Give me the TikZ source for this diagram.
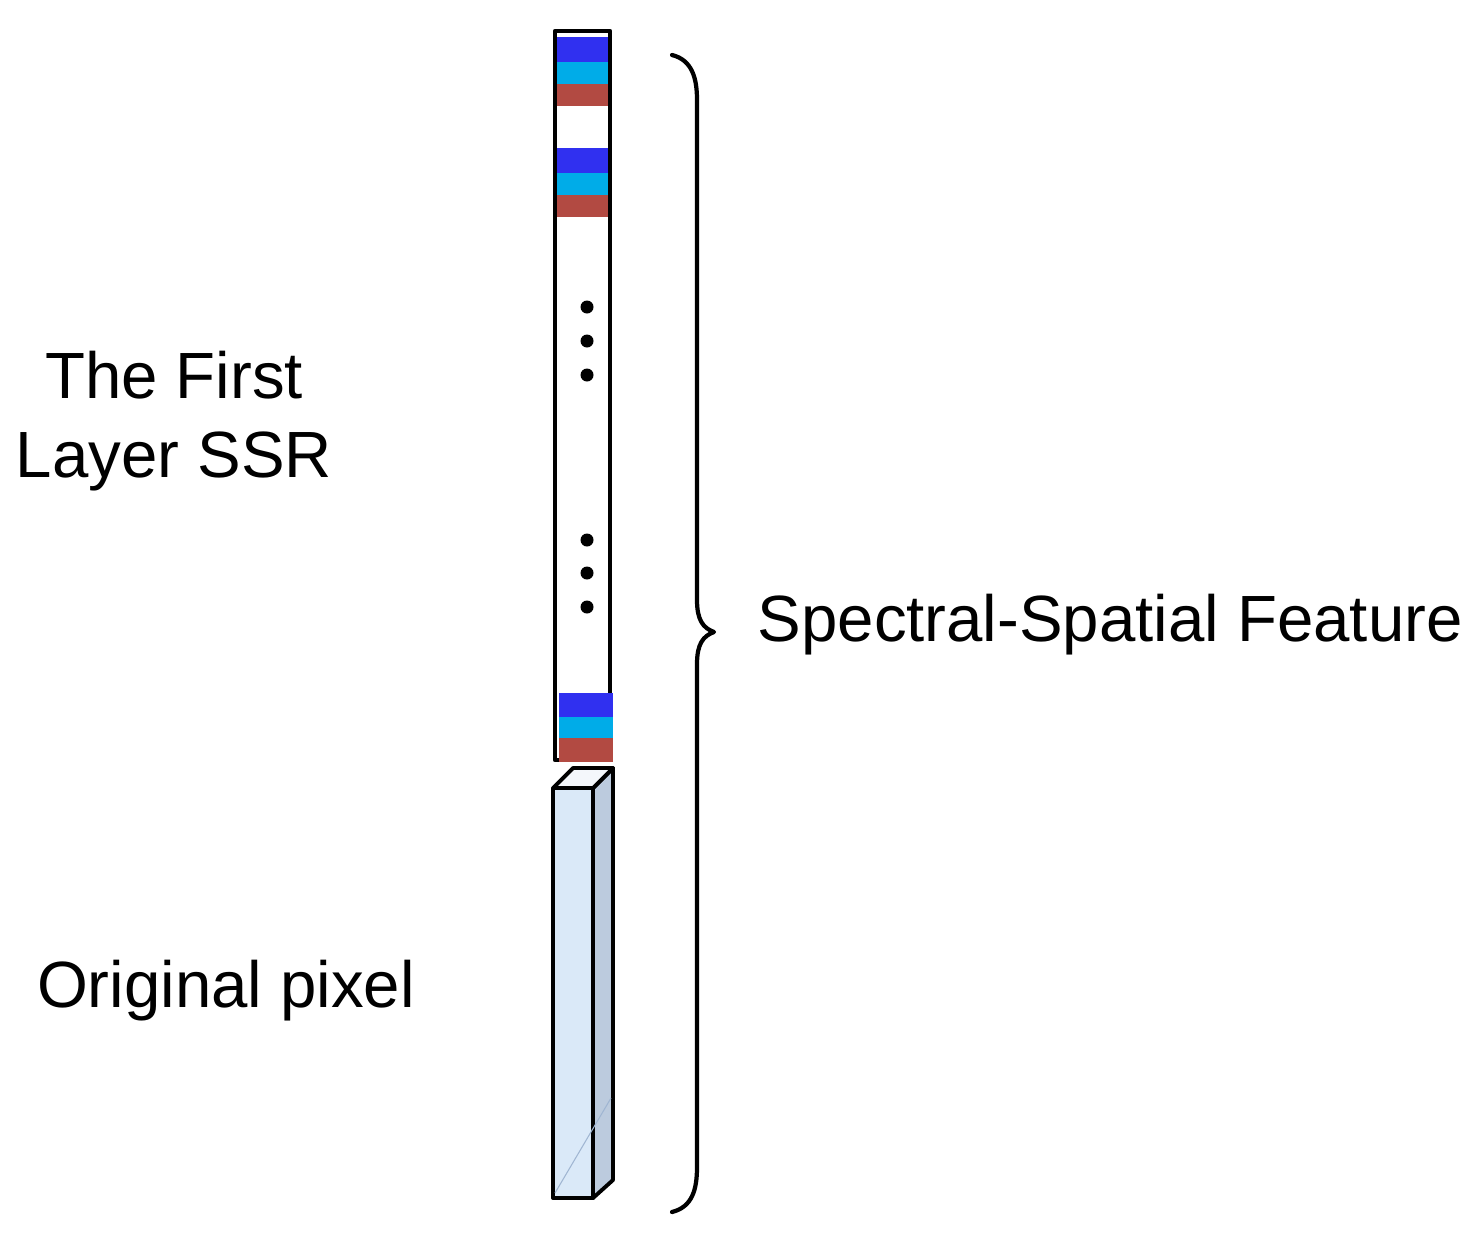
\documentclass[tikz,border=0pt]{standalone}
\usepackage{fontspec}
\setmainfont{Liberation Sans}
\usetikzlibrary{positioning}
\definecolor{bandblue}{RGB}{48,48,240}
\definecolor{bandcyan}{RGB}{0,172,232}
\definecolor{bandred}{RGB}{178,74,66}
\definecolor{pixfront}{RGB}{218,233,248}
\definecolor{pixside}{RGB}{188,203,222}
\definecolor{pixtop}{RGB}{244,247,251}
\definecolor{pixglint}{RGB}{160,182,210}
\begin{document}
\begin{tikzpicture}[x=0.1mm, y=-0.1mm, line join=round,
	lbl/.style={font=\fontsize{18.6}{22.5}\selectfont, inner sep=0pt}]
\def \barleft {555}
\def \barright {610}
\def \bartop {31}
\def \barbottom {760}
\def \pixleft {553}
\def \pixright {593}
\def \pixdepth {20}

\useasboundingbox (0,0) rectangle (1480,1240);

%First layer SSR column
\foreach \t in {37,148} {
	\fill[bandblue] (\barleft,\t) rectangle (\barright,{\t+25});
	\fill[bandcyan] (\barleft,{\t+25}) rectangle (\barright,{\t+47});
	\fill[bandred] (\barleft,{\t+47}) rectangle (\barright,{\t+69});
}
\draw[line width=1.2pt] (\barleft,\bartop) rectangle (\barright,\barbottom);
\fill[bandblue] ({\barleft+4},693) rectangle ({\barright+3},717);
\fill[bandcyan] ({\barleft+4},717) rectangle ({\barright+3},738);
\fill[bandred] ({\barleft+4},738) rectangle ({\barright+3},762);
\foreach \y in {307,341,375,540,573,607}
	\fill (587,\y) circle (0.65mm);

%Original pixel
\draw[line width=1.1pt, fill=pixfront] (\pixleft,788) rectangle (\pixright,1198);
\draw[line width=1.1pt, fill=pixside] (\pixright,788) -- ({\pixright+\pixdepth},768) -- ({\pixright+\pixdepth},1180) -- (\pixright,1198) -- cycle;
\draw[line width=1.1pt, fill=pixtop] (\pixleft,788) -- ({\pixleft+\pixdepth},768) -- ({\pixright+\pixdepth},768) -- (\pixright,788) -- cycle;
\draw[pixglint, line width=0.3pt] ({\pixleft+2},1193) -- ({\pixright+\pixdepth-2},1098);

%Brace
\draw[line width=1.2pt, line cap=round] (672,55) .. controls (692,60) and (697,78) .. (697,100) -- (697,600)
	.. controls (697,620) and (703,628) .. (714,632) .. controls (703,636) and (697,644) .. (697,664)
	-- (697,1167) .. controls (697,1190) and (692,1207) .. (672,1212);

%Labels
\node[lbl, anchor=base] (first) at (174,398) {The First};
\node[lbl, anchor=base] (layer) at (174,477) {Layer SSR};
\node[lbl, anchor=base] (orig) at (226,1007) {Original pixel};
\node[lbl, anchor=base west] (feature) at (757,641) {Spectral-Spatial Feature};
\end{tikzpicture}
\end{document}
